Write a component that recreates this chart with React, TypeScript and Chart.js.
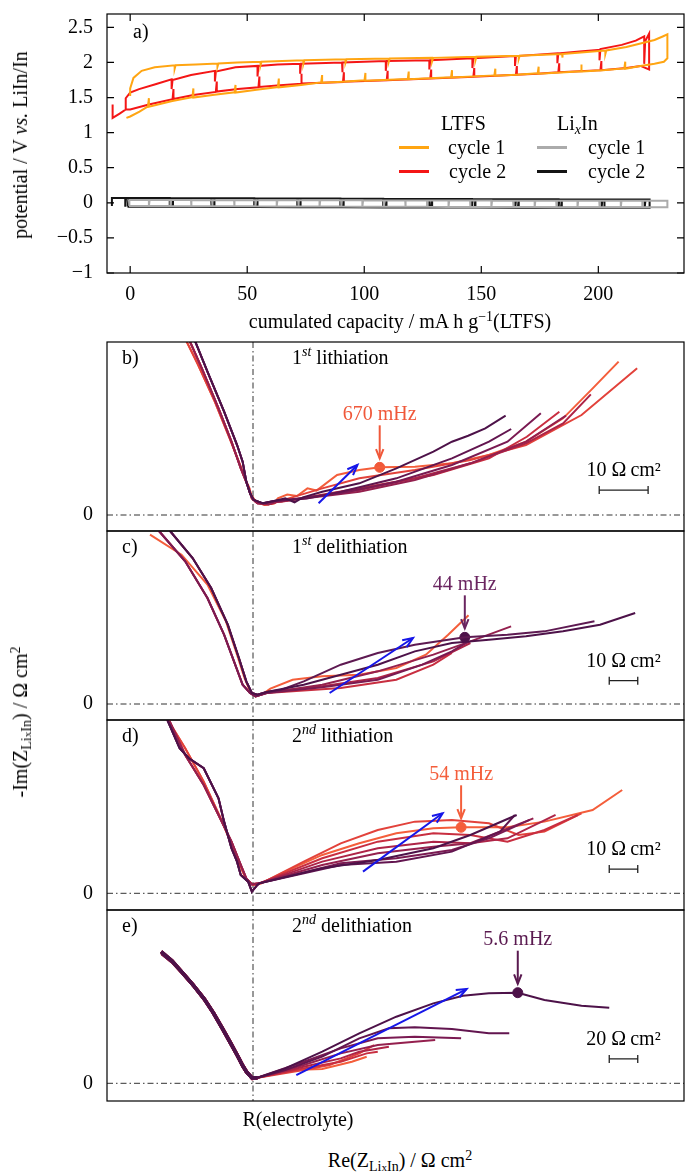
import React, { useEffect, useRef } from "react";
import { Chart, registerables } from "chart.js";

Chart.register(...registerables);

const FONT = "'Liberation Serif', 'Times New Roman', serif";
Chart.defaults.font.family = FONT;
Chart.defaults.color = "#000";

type P = [number, number];

/* ================= panel a : potential vs cumulated capacity ================= */
const CAPACITY_TICKS = [0, 50, 100, 150, 200];
const POTENTIAL_TICKS = [-1, -0.5, 0, 0.5, 1, 1.5, 2, 2.5];

// LTFS cycle 1 (upper branch left->right, lower branch right->left)
const LTFS_CYCLE1: P[] = [
  [0, 1.52], [0, 1.63], [1.4, 1.78], [4.9, 1.88], [10.5, 1.93], [19, 1.96], [19, 1.91], [19.4, 1.96],
  [28, 1.97], [37.3, 1.985], [37.3, 1.94], [37.7, 1.985], [45.8, 2.0], [55.7, 2.01], [55.7, 1.96], [56.1, 2.01],
  [65, 2.02], [74, 2.03], [74, 1.98], [74.4, 2.03], [92, 2.045], [92, 2.0], [92.4, 2.045], [110.5, 2.055],
  [110.5, 2.01], [110.9, 2.055], [129, 2.065], [129, 2.02], [129.4, 2.065], [147.5, 2.08], [147.5, 2.03],
  [147.9, 2.08], [166, 2.095], [166, 2.05], [166.4, 2.095], [184.5, 2.12], [184.5, 2.07], [184.9, 2.12],
  [203, 2.17], [203, 2.12], [203.4, 2.17], [212, 2.22], [218, 2.27], [224, 2.32], [227.5, 2.37], [229.5, 2.4],
  [229.5, 2.06],
  [228, 2.01], [224, 1.98], [218, 1.95], [211.5, 1.91], [211.5, 2.01], [211.1, 1.915], [202, 1.89], [193, 1.87],
  [193, 1.97], [192.6, 1.875], [184, 1.855], [174.5, 1.84], [174.5, 1.94], [174.1, 1.845], [165, 1.825],
  [156, 1.81], [156, 1.91], [155.6, 1.815], [137.5, 1.785], [137.5, 1.89], [137.1, 1.79], [119, 1.76],
  [119, 1.87], [118.6, 1.765], [100.5, 1.74], [100.5, 1.85], [100.1, 1.745], [91, 1.725], [82, 1.71],
  [82, 1.82], [81.6, 1.715], [73, 1.68], [63.5, 1.645], [63.5, 1.77], [63.1, 1.65], [54, 1.61], [45, 1.57],
  [45, 1.68], [44.6, 1.575], [36, 1.54], [27, 1.5], [27, 1.63], [26.6, 1.505], [18, 1.45], [8, 1.37],
  [8, 1.49], [7.6, 1.375], [4, 1.3], [0, 1.23], [-1.6, 1.21],
];

// LTFS cycle 2
const LTFS_CYCLE2: P[] = [
  [-7.5, 1.4], [-7.5, 1.21], [-4.5, 1.27], [-1.9, 1.33], [-1.9, 1.49], [0, 1.57], [3.8, 1.62], [10.8, 1.69],
  [17.7, 1.76], [17.7, 1.62], [18.1, 1.75], [26, 1.82], [36.2, 1.88], [36.2, 1.73], [36.6, 1.87], [45, 1.93],
  [54.4, 1.95], [54.4, 1.8], [54.8, 1.95], [63, 1.97], [72.6, 1.98], [72.6, 1.84], [73, 1.98], [90.5, 2.0],
  [90.5, 1.86], [90.9, 2.0], [109.2, 2.02], [109.2, 1.88], [109.6, 2.02], [127.8, 2.03], [127.8, 1.9],
  [128.2, 2.03], [146.2, 2.06], [146.2, 1.92], [146.6, 2.06], [164.4, 2.09], [164.4, 1.95], [164.8, 2.09],
  [182.5, 2.13], [182.5, 1.99], [182.9, 2.13], [192, 2.155], [200.5, 2.18], [200.5, 2.03], [200.9, 2.19],
  [210, 2.25], [216, 2.31], [219.6, 2.37], [219.6, 1.98], [220, 2.3], [221.7, 2.41], [221.7, 1.9],
  [218, 1.95], [212, 1.92], [201.3, 1.89], [201.3, 2.02], [200.9, 1.89], [192, 1.875], [183.3, 1.86],
  [183.3, 1.99], [182.9, 1.86], [174, 1.84], [165.2, 1.825], [165.2, 1.95], [164.8, 1.825], [156, 1.81],
  [147, 1.795], [147, 1.92], [146.6, 1.795], [128.6, 1.77], [128.6, 1.9], [128.2, 1.77], [110, 1.745],
  [110, 1.88], [109.6, 1.745], [91.3, 1.725], [91.3, 1.86], [90.9, 1.72], [73.4, 1.7], [73.4, 1.84],
  [73, 1.695], [64, 1.675], [55.2, 1.65], [55.2, 1.8], [54.8, 1.645], [46, 1.62], [37, 1.585], [37, 1.73],
  [36.6, 1.58], [27, 1.535], [18.5, 1.48], [18.5, 1.62], [18.1, 1.475], [8, 1.4], [0, 1.33], [-1.9, 1.33],
];

// LixIn cycle 1: relaxation steps
const LIXIN_C1_CAPS = [-0.5, 8.0, 17.2, 26.0, 35.0, 44.4, 53.5, 62.6, 71.8, 80.9, 90.1, 99.2, 108.4, 117.5, 126.8, 136.0, 145.2, 154.3, 163.6, 172.8, 182.0, 191.1, 200.4, 209.6, 218.8, 229.5];
const LIXIN_C1_UPPER = [0.04, 0.04, 0.039, 0.039, 0.038, 0.038, 0.037, 0.037, 0.036, 0.036, 0.035, 0.035, 0.034, 0.034, 0.033, 0.033, 0.032, 0.032, 0.031, 0.031, 0.03, 0.03, 0.03, 0.03, 0.03, 0.03];
const LIXIN_C1_LOWER = [-0.045, -0.046, -0.047, -0.048, -0.049, -0.05, -0.05, -0.051, -0.052, -0.053, -0.054, -0.055, -0.055, -0.056, -0.057, -0.058, -0.059, -0.06, -0.06, -0.061, -0.062, -0.063, -0.064, -0.064, -0.065, -0.065];

// LixIn cycle 2
const LIXIN_C2_START: P[] = [[-7.8, -0.045], [-7.8, 0.07]];
const LIXIN_C2_UP_CAPS = [-2.1, 16.9, 34.6, 53.0, 71.4, 89.8, 108.1, 127.7, 146.0, 164.5, 183.0, 201.4, 219.8];
const LIXIN_C2_UP_V = [0.07, 0.068, 0.066, 0.064, 0.062, 0.06, 0.058, 0.056, 0.054, 0.052, 0.05, 0.048, 0.046];
const LIXIN_C2_LOW_CAPS = [221.9, 202.8, 184.4, 166.0, 147.5, 129.0, 109.5, 91.2, 72.8, 54.4, 36.0, 18.3, -0.7];
const LIXIN_C2_LOW_V = [-0.072, -0.071, -0.07, -0.069, -0.068, -0.067, -0.066, -0.064, -0.062, -0.06, -0.058, -0.056, -0.055];

function lixinCycle1(): P[] {
  const pts: P[] = [];
  const n = LIXIN_C1_CAPS.length;
  LIXIN_C1_CAPS.forEach((c, i) => {
    pts.push([c, LIXIN_C1_UPPER[i]], [c, LIXIN_C1_LOWER[i]]);
    if (i < n - 1) pts.push([c + 0.3, LIXIN_C1_UPPER[i]]);
  });
  for (let i = n - 1; i >= 0; i--) pts.push([LIXIN_C1_CAPS[i], LIXIN_C1_LOWER[i]]);
  return pts;
}

function lixinCycle2(): P[] {
  const pts: P[] = [...LIXIN_C2_START];
  const n = LIXIN_C2_UP_CAPS.length;
  LIXIN_C2_UP_CAPS.forEach((c, i) => {
    const lo = LIXIN_C2_LOW_V[n - 1 - i];
    pts.push([c, LIXIN_C2_UP_V[i]], [c, lo], [c + 0.35, LIXIN_C2_UP_V[i]]);
  });
  pts.push([LIXIN_C2_LOW_CAPS[0], LIXIN_C2_UP_V[n - 1]]);
  LIXIN_C2_LOW_CAPS.forEach((c, j) => {
    pts.push([c, LIXIN_C2_LOW_V[j]]);
    if (j > 0) {
      const hi = LIXIN_C2_UP_V[n - 1 - j];
      pts.push([c, hi], [c - 0.35, LIXIN_C2_LOW_V[j]]);
    }
  });
  return pts;
}

/* ================= panels b-e : Nyquist plots ================= */
const R_ELECTROLYTE = 20; // Ω cm²
const PALETTE = ["#4d1249", "#62154f", "#7a1a52", "#94204e", "#ae2447", "#c82e40", "#e2423b", "#f45e3b"];

// b) 1st lithiation
const B_HF_DARK: P[] = [[7.65, 36.81], [10.68, 29.31], [14.09, 21.13], [16.74, 14.31], [17.88, 10.91], [18.63, 6.82], [19.39, 4.43], [20.15, 3.07], [22.04, 2.39], [24.32, 2.86]];
const B_HF_MID: P[] = [[6.51, 36.81], [9.54, 29.99], [12.95, 21.81], [15.6, 15.0], [17.5, 9.54], [18.86, 6.14], [19.77, 3.41], [20.91, 2.39], [23.18, 2.18], [25.07, 2.73]];
const B_HF_LIGHT: P[] = [[5.76, 36.81], [8.79, 30.68], [12.19, 23.18], [15.23, 15.68], [17.35, 10.23], [18.63, 6.82], [19.2, 5.6], [19.62, 4.09], [20.53, 2.73], [22.42, 2.04], [24.32, 2.39]];
const B_TAIL_1: P[] = [[26.59, 3.41], [28.5, 2.6], [30.2, 3.6], [34.16, 4.77], [41.74, 6.48], [49.32, 9.54], [56.89, 12.95], [60.68, 14.99], [64.0, 16.2], [67.5, 17.72], [71.66, 20.31]];
const B_TAIL_2: P[] = [[26.59, 3.07], [31.0, 3.4], [37.95, 4.77], [49.32, 7.5], [60.68, 11.59], [68.26, 14.99], [72.8, 17.59]];
const B_TAIL_3: P[] = [[26.59, 3.07], [37.95, 4.43], [49.32, 6.82], [60.68, 10.23], [72.04, 14.99], [78.86, 20.79]];
const B_TAIL_4: P[] = [[26.59, 2.93], [41.74, 4.77], [53.1, 7.16], [64.47, 10.57], [75.83, 14.99], [84.01, 20.31]];
const B_TAIL_5: P[] = [[26.59, 2.93], [41.74, 5.11], [53.1, 7.5], [64.47, 10.57], [75.83, 14.65], [83.41, 18.75], [89.09, 24.68]];
const B_TAIL_6: P[] = [[25.83, 2.73], [41.74, 5.45], [56.89, 8.18], [68.26, 11.59], [76.0, 16.0], [82.65, 21.13]];
const B_TAIL_7: P[] = [[25.07, 2.73], [34.16, 5.45], [41.74, 7.5], [53.1, 9.2], [64.47, 11.25], [75.83, 14.32], [87.19, 20.45], [98.56, 30.0]];
const B_TAIL_8: P[] = [[25.07, 3.41], [27.0, 4.2], [29.0, 3.9], [31.13, 5.45], [33.0, 5.0], [37.19, 8.18], [41.74, 9.2], [45.91, 9.75], [53.1, 9.88], [60.68, 10.57], [68.26, 12.27], [75.83, 14.99], [83.41, 19.77], [89.47, 25.9], [94.77, 31.36]];
const B_CURVES: P[][] = [
  [...B_HF_DARK, ...B_TAIL_1], [...B_HF_DARK, ...B_TAIL_2], [...B_HF_DARK, ...B_TAIL_3], [...B_HF_MID, ...B_TAIL_4],
  [...B_HF_MID, ...B_TAIL_5], [...B_HF_MID, ...B_TAIL_6], [...B_HF_LIGHT, ...B_TAIL_7], [...B_HF_LIGHT, ...B_TAIL_8],
];
const B_MARKER: P = [45.91, 9.75];
const B_TREND: P[] = [[33.41, 2.39], [41.36, 10.23]];
const B_SCALE_BAR: P = [90.8, 5.1];

// c) 1st delithiation
const C_HF_DARK: P[] = [[-10.2, 62.5], [-9.0, 60.58], [-1.19, 51.2], [5.31, 40.7], [11.15, 27.83], [15.05, 16.14], [17.65, 7.95], [19.6, 3.86], [21.55, 3.27], [24.8, 4.2]];
const C_HF_MID: P[] = [[-14.0, 62.5], [-12.89, 60.58], [-3.79, 50.05], [4.01, 37.19], [9.85, 24.32], [13.75, 13.8], [16.35, 6.78], [18.95, 3.86], [20.9, 2.68], [24.8, 3.86]];
const C_HF_LIGHT: P[] = [[-16.14, 59.41], [-5.09, 52.39], [4.01, 41.87], [10.5, 29.0], [14.4, 17.31], [17.0, 9.12], [18.95, 4.44], [20.9, 2.68], [23.5, 3.6]];
const C_TAIL_1: P[] = [[37.8, 6.78], [50.79, 10.29], [63.78, 13.8], [76.78, 18.47], [89.78, 21.4], [102.77, 22.57], [115.77, 23.74], [128.76, 25.49], [141.76, 27.83], [154.1, 31.93]];
const C_TAIL_2: P[] = [[30.0, 5.0], [37.8, 7.95], [50.79, 13.8], [63.78, 17.89], [76.78, 20.81], [94.32, 23.39], [109.27, 24.32], [122.27, 25.49], [139.81, 29.0]];
const C_TAIL_3: P[] = [[44.29, 6.78], [63.78, 11.46], [83.28, 17.31], [96.27, 21.98], [110.57, 27.25]];
const C_TAIL_4: P[] = [[44.29, 6.2], [63.78, 9.12], [83.28, 14.97], [96.27, 21.4]];
const C_TAIL_5: P[] = [[44.29, 5.84], [63.78, 8.53], [79.38, 13.8], [89.78, 18.47], [95.62, 21.98]];
const C_TAIL_6: P[] = [[50.79, 5.61], [70.28, 8.53], [83.28, 13.8], [89.78, 17.89]];
const C_TAIL_7: P[] = [[26.1, 5.4], [33.9, 8.53], [44.29, 9.7], [57.29, 10.29], [70.28, 12.63], [80.68, 17.31], [88.48, 24.32], [95.62, 31.11]];
const C_CURVES: P[][] = [
  [...C_HF_DARK, ...C_TAIL_1], [...C_HF_DARK, ...C_TAIL_2], [...C_HF_MID, ...C_TAIL_5], [...C_HF_MID, ...C_TAIL_3],
  [...C_HF_DARK, ...C_TAIL_4], [...C_HF_MID, ...C_TAIL_6], [...C_HF_LIGHT, ...C_TAIL_7],
];
const C_COLORS = ["#4d1249", "#5e1a52", "#7a1a52", "#94204e", "#ae2447", "#c82e40", "#f45e3b"];
const C_MARKER: P = [94.32, 23.39];
const C_TREND: P[] = [[46.89, 3.86], [76.13, 23.15]];
const C_SCALE_BAR: P = [145.0, 8.2];

// d) 2nd lithiation
const D_HF_DARK: P[] = [[-11.0, 63.0], [-5.74, 50.87], [-2.49, 47.37], [2.71, 43.86], [7.9, 33.33], [9.85, 25.14], [12.45, 15.79], [14.4, 11.11], [15.7, 6.43], [18.3, 4.09], [19.6, 0.58], [21.55, 2.92], [22.2, 3.5]];
const D_HF_MID: P[] = [[-10.5, 63.0], [-3.79, 48.54], [2.71, 38.01], [7.9, 27.48], [12.45, 18.12], [15.7, 9.94], [17.65, 5.26], [19.6, 3.15], [22.2, 3.5]];
const D_HF_LIGHT: P[] = [[-11.2, 63.0], [-3.79, 50.87], [2.71, 39.18], [9.2, 25.14], [14.4, 12.28], [17.65, 4.68], [20.25, 2.92], [22.85, 3.5]];
const D_TAIL_1: P[] = [[44.29, 8.77], [63.78, 11.7], [83.28, 15.79], [96.27, 20.46], [112.52, 27.48]];
const D_TAIL_2: P[] = [[50.79, 9.94], [70.28, 11.11], [89.78, 14.62], [106.67, 21.63], [111.87, 27.48]];
const D_TAIL_3: P[] = [[50.79, 10.52], [70.28, 12.28], [89.78, 15.2], [102.77, 19.29], [117.07, 25.73]];
const D_TAIL_4: P[] = [[44.29, 9.94], [63.78, 14.03], [83.28, 16.37], [96.27, 17.54], [118.37, 26.31]];
const D_TAIL_5: P[] = [[44.29, 11.11], [63.78, 15.79], [83.28, 18.12], [96.27, 17.54], [109.27, 19.29], [126.16, 27.48]];
const D_TAIL_6: P[] = [[44.29, 12.28], [63.78, 18.12], [83.28, 21.05], [96.27, 20.46], [109.27, 18.12], [122.27, 22.22], [133.96, 27.48]];
const D_TAIL_7: P[] = [[37.8, 11.11], [50.79, 17.54], [63.78, 22.22], [76.78, 25.14], [89.78, 25.73], [102.77, 24.56], [113.17, 20.46], [122.27, 21.63], [135.26, 28.07]];
const D_TAIL_8: P[] = [[31.3, 7.6], [44.29, 13.45], [57.29, 17.54], [70.28, 21.05], [83.28, 22.8], [93.02, 23.15], [109.27, 23.15], [122.27, 25.14], [139.16, 29.24], [149.55, 36.25]];
const D_CURVES: P[][] = [
  [...D_HF_DARK, ...D_TAIL_1], [...D_HF_DARK, ...D_TAIL_2], [...D_HF_DARK, ...D_TAIL_3], [...D_HF_MID, ...D_TAIL_4],
  [...D_HF_MID, ...D_TAIL_5], [...D_HF_MID, ...D_TAIL_6], [...D_HF_LIGHT, ...D_TAIL_7], [...D_HF_LIGHT, ...D_TAIL_8],
];
const D_MARKER: P = [93.02, 23.15];
const D_TREND: P[] = [[58.59, 7.6], [86.53, 28.07]];
const D_SCALE_BAR: P = [145.0, 8.5];

// e) 2nd delithiation
const E_HF_A: P[] = [[-44.49, 92.35], [-36.69, 85.8], [-30.19, 78.32], [-22.39, 69.43], [-14.6, 59.6], [-8.1, 49.78], [-1.6, 38.55], [3.6, 29.19], [8.8, 19.84], [12.7, 12.36], [15.3, 8.14], [19.19, 3.93], [23.09, 3.93]];
const E_HF_B: P[] = [[-44.0, 91.2], [-36.0, 84.6], [-29.4, 77.4], [-21.7, 68.6], [-13.9, 58.7], [-7.4, 48.9], [-0.9, 37.7], [4.3, 28.3], [9.4, 19.0], [13.3, 11.6], [15.9, 7.5], [19.6, 3.4], [23.09, 3.93]];
const E_TAIL_1: P[] = [[42.58, 10.48], [68.58, 22.18], [94.57, 35.04], [120.56, 46.74], [146.55, 56.1], [167.34, 61.47], [185.54, 63.11], [205.81, 63.58], [224.53, 58.43], [250.52, 54.46], [270.0, 53.05]];
const E_TAIL_2: P[] = [[42.58, 9.31], [68.58, 18.67], [94.57, 31.53], [115.36, 38.55], [133.56, 39.25], [159.55, 38.08], [185.54, 35.04], [199.84, 35.04]];
const E_TAIL_3: P[] = [[55.58, 15.16], [81.57, 24.52], [107.56, 31.53], [133.56, 32.7], [166.05, 31.53]];
const E_TAIL_4: P[] = [[55.58, 12.82], [81.57, 21.01], [107.56, 26.86], [133.56, 29.19], [147.85, 30.36]];
const E_TAIL_5: P[] = [[55.58, 11.65], [81.57, 17.5], [94.57, 22.18], [115.36, 25.68]];
const E_TAIL_6: P[] = [[55.58, 10.48], [81.57, 15.16], [99.77, 21.01], [107.56, 22.18]];
const E_TAIL_7: P[] = [[55.58, 9.31], [73.77, 12.82], [94.57, 21.01], [104.97, 26.86]];
const E_TAIL_8: P[] = [[47.78, 9.31], [68.58, 10.01], [89.37, 15.16], [99.77, 18.67]];
const E_CURVES: P[][] = [
  [...E_HF_A, ...E_TAIL_1], [...E_HF_B, ...E_TAIL_2], [...E_HF_A, ...E_TAIL_3], [...E_HF_B, ...E_TAIL_4],
  [...E_HF_A, ...E_TAIL_5], [...E_HF_B, ...E_TAIL_6], [...E_HF_A, ...E_TAIL_7], [...E_HF_B, ...E_TAIL_8],
];
const E_MARKER: P = [205.81, 63.58];
const E_TREND: P[] = [[50.38, 5.8], [169.95, 66.15]];
const E_SCALE_BAR: P = [270.0, 17.1];

/* ================= helpers ================= */
const toXY = (pts: P[]) => pts.map(([x, y]) => ({ x, y }));

function drawArrow(ctx: any, x0: number, y0: number, x1: number, y1: number, color: string, head = 10) {
  ctx.save();
  ctx.strokeStyle = color;
  ctx.lineWidth = 2;
  ctx.beginPath();
  ctx.moveTo(x0, y0);
  ctx.lineTo(x1, y1);
  ctx.stroke();
  const a = Math.atan2(y1 - y0, x1 - x0);
  ctx.beginPath();
  ctx.moveTo(x1 - head * Math.cos(a - 0.38), y1 - head * Math.sin(a - 0.38));
  ctx.lineTo(x1, y1);
  ctx.lineTo(x1 - head * Math.cos(a + 0.38), y1 - head * Math.sin(a + 0.38));
  ctx.stroke();
  ctx.restore();
}

function drawRich(ctx: any, x: number, y: number, parts: any[]) {
  let cx = x;
  ctx.textAlign = "left";
  ctx.textBaseline = "middle";
  for (const p of parts) {
    ctx.font = `${p.italic ? "italic " : ""}${p.size}px ${FONT}`;
    ctx.fillText(p.text, cx, y + (p.dy || 0));
    cx += ctx.measureText(p.text).width;
  }
}

const noGrid = { display: false, drawTicks: false };
const noBorder = { display: false };
const fixWidth = (w: number) => (s: any) => {
  s.width = w;
  s.paddingTop = 0;
  s.paddingBottom = 0;
};
const fixHeight = (h: number) => (s: any) => {
  s.height = h;
  s.paddingLeft = 0;
  s.paddingRight = 0;
};

/* ================= panel a config ================= */
function buildPanelA() {
  const frame = {
    id: "frameA",
    afterDatasetsDraw(chart: any) {
      const { ctx, chartArea: ca, scales } = chart;
      ctx.save();
      ctx.strokeStyle = "#000";
      ctx.lineWidth = 1.2;
      ctx.strokeRect(ca.left, ca.top, ca.right - ca.left, ca.bottom - ca.top);
      ctx.beginPath();
      for (const t of scales.x.ticks) {
        const px = scales.x.getPixelForValue(t.value);
        ctx.moveTo(px, ca.bottom); ctx.lineTo(px, ca.bottom - 7);
        ctx.moveTo(px, ca.top); ctx.lineTo(px, ca.top + 7);
      }
      for (const t of scales.y.ticks) {
        const py = scales.y.getPixelForValue(t.value);
        ctx.moveTo(ca.left, py); ctx.lineTo(ca.left + 7, py);
        ctx.moveTo(ca.right, py); ctx.lineTo(ca.right - 7, py);
      }
      ctx.stroke();
      ctx.fillStyle = "#000";
      drawRich(ctx, ca.left + 26, ca.top + 19, [{ text: "a)", size: 20 }]);
      ctx.restore();
    },
  };
  return {
    type: "scatter",
    data: {
      datasets: [
        { data: toXY(lixinCycle1()), borderColor: "#ababab", borderWidth: 2 },
        { data: toXY(lixinCycle2()), borderColor: "#141414", borderWidth: 2 },
        { data: toXY(LTFS_CYCLE1), borderColor: "#ffa512", borderWidth: 2 },
        { data: toXY(LTFS_CYCLE2), borderColor: "#f41616", borderWidth: 2 },
      ],
    },
    options: {
      responsive: false,
      animation: false,
      devicePixelRatio: 1,
      layout: { autoPadding: false, padding: { top: 14, right: 2, left: 0, bottom: 0 } },
      plugins: { legend: { display: false }, tooltip: { enabled: false } },
      datasets: { scatter: { showLine: true, pointRadius: 0, tension: 0 } },
      scales: {
        x: {
          type: "linear", min: -9.9, max: 236.6,
          grid: noGrid, border: noBorder,
          afterBuildTicks: (a: any) => { a.ticks = CAPACITY_TICKS.map((v) => ({ value: v })); },
          afterFit: fixHeight(37),
          ticks: { padding: 10, font: { size: 20, family: FONT }, color: "#000", autoSkip: false, maxRotation: 0 },
        },
        y: {
          type: "linear", min: -1, max: 2.69,
          grid: noGrid, border: noBorder,
          afterBuildTicks: (a: any) => { a.ticks = POTENTIAL_TICKS.map((v) => ({ value: v })); },
          afterFit: fixWidth(107),
          ticks: {
            padding: 14, font: { size: 20, family: FONT }, color: "#000", autoSkip: false,
            callback: (v: any) => String(v).replace("-", "\u2212"),
          },
        },
      },
    },
    plugins: [frame],
  };
}

/* ================= panels b-e config ================= */
const NYQUIST_PANELS = [
  {
    key: "b", top: 340, height: 193, padTop: 2, padBottom: 2, xAxisH: 0,
    xMin: -9.86, xMax: 108.14, yMin: -3.27, yMax: 35.38,
    letter: "b)", ord: "1", sup: "st", title: " lithiation",
    curves: B_CURVES, colors: PALETTE, hfWidth: 2, hfSegments: 0,
    marker: B_MARKER, markerLabel: "670 mHz", markerColor: "#f0583a", dotColor: "#f0583a",
    trend: B_TREND, bar: B_SCALE_BAR, barLen: 10,
  },
  {
    key: "c", top: 529, height: 193, padTop: 2, padBottom: 2, xAxisH: 0,
    xMin: -31.23, xMax: 171.23, yMin: -5.61, yMax: 60.7,
    letter: "c)", ord: "1", sup: "st", title: " delithiation",
    curves: C_CURVES, colors: C_COLORS, hfWidth: 2, hfSegments: 0,
    marker: C_MARKER, markerLabel: "44 mHz", markerColor: "#6a2560", dotColor: "#4d1249",
    trend: C_TREND, bar: C_SCALE_BAR, barLen: 10,
  },
  {
    key: "d", top: 718, height: 194, padTop: 2, padBottom: 2, xAxisH: 0,
    xMin: -31.23, xMax: 171.23, yMin: -5.86, yMax: 60.8,
    letter: "d)", ord: "2", sup: "nd", title: " lithiation",
    curves: D_CURVES, colors: PALETTE, hfWidth: 2, hfSegments: 0,
    marker: D_MARKER, markerLabel: "54 mHz", markerColor: "#f45e3b", dotColor: "#f45e3b",
    trend: D_TREND, bar: D_SCALE_BAR, barLen: 10,
  },
  {
    key: "e", top: 908, height: 232, padTop: 2, padBottom: 0, xAxisH: 39,
    xMin: -82.46, xMax: 322.46, yMin: -12.42, yMax: 121.6,
    letter: "e)", ord: "2", sup: "nd", title: " delithiation",
    curves: E_CURVES, colors: PALETTE, hfWidth: 3.5, hfSegments: 12,
    marker: E_MARKER, markerLabel: "5.6 mHz", markerColor: "#5a1a50", dotColor: "#4d1249",
    trend: E_TREND, bar: E_SCALE_BAR, barLen: 20,
  },
];

function buildNyquist(p: any) {
  const deco = {
    id: "deco_" + p.key,
    beforeDatasetsDraw(chart: any) {
      const { ctx, chartArea: ca, scales } = chart;
      ctx.save();
      ctx.strokeStyle = "#333";
      ctx.lineWidth = 1;
      ctx.setLineDash([6, 3, 1.5, 3]);
      const y0 = scales.y.getPixelForValue(0);
      const xr = scales.x.getPixelForValue(R_ELECTROLYTE);
      ctx.beginPath();
      ctx.moveTo(ca.left, y0); ctx.lineTo(ca.right, y0);
      ctx.moveTo(xr, ca.top); ctx.lineTo(xr, ca.bottom);
      ctx.stroke();
      ctx.restore();
    },
    afterDatasetsDraw(chart: any) {
      const { ctx, chartArea: ca, scales } = chart;
      const X = (v: number) => scales.x.getPixelForValue(v);
      const Y = (v: number) => scales.y.getPixelForValue(v);
      ctx.save();
      // trend arrow
      drawArrow(ctx, X(p.trend[0][0]), Y(p.trend[0][1]), X(p.trend[1][0]), Y(p.trend[1][1]), "#1616e8", 11);
      // frequency marker arrow + label
      const mx = X(p.marker[0]);
      const my = Y(p.marker[1]);
      drawArrow(ctx, mx, my - 42, mx, my - 9, p.markerColor, 10);
      ctx.fillStyle = p.markerColor;
      ctx.font = `20px ${FONT}`;
      ctx.textAlign = "center";
      ctx.textBaseline = "middle";
      ctx.fillText(p.markerLabel, mx, my - 53);
      // scale bar
      const bx0 = X(p.bar[0]);
      const bx1 = X(p.bar[0] + p.barLen);
      const by = Y(p.bar[1]);
      ctx.strokeStyle = "#222";
      ctx.lineWidth = 1.3;
      ctx.beginPath();
      ctx.moveTo(bx0, by); ctx.lineTo(bx1, by);
      ctx.moveTo(bx0, by - 4); ctx.lineTo(bx0, by + 4);
      ctx.moveTo(bx1, by - 4); ctx.lineTo(bx1, by + 4);
      ctx.stroke();
      ctx.fillStyle = "#000";
      ctx.font = `20px ${FONT}`;
      ctx.textAlign = "center";
      ctx.fillText(`${p.barLen} \u03A9\u2009cm\u00B2`, (bx0 + bx1) / 2, by - 19);
      // frame
      ctx.strokeStyle = "#000";
      ctx.lineWidth = 1.2;
      ctx.strokeRect(ca.left, ca.top, ca.right - ca.left, ca.bottom - ca.top);
      // panel letter + heading
      ctx.fillStyle = "#000";
      drawRich(ctx, ca.left + 15, ca.top + 17, [{ text: p.letter, size: 20 }]);
      drawRich(ctx, ca.left + 185, ca.top + 17, [
        { text: p.ord, size: 20 },
        { text: p.sup, size: 14, italic: true, dy: -7 },
        { text: p.title, size: 20 },
      ]);
      ctx.restore();
    },
  };
  const datasets: any[] = p.curves.map((c: P[], i: number) => ({
    data: toXY(c),
    borderColor: p.colors[i],
    borderWidth: 2,
    showLine: true,
    pointRadius: 0,
    segment: {
      borderWidth: (s: any) => (s.p0DataIndex < p.hfSegments ? p.hfWidth : 2),
    },
  }));
  datasets.push({
    data: toXY([p.marker]),
    showLine: false,
    pointRadius: 5,
    backgroundColor: p.dotColor,
    borderColor: p.dotColor,
  });
  const showX = p.xAxisH > 0;
  return {
    type: "scatter",
    data: { datasets },
    options: {
      responsive: false,
      animation: false,
      devicePixelRatio: 1,
      layout: { autoPadding: false, padding: { top: p.padTop, bottom: p.padBottom, right: 2, left: 0 } },
      plugins: { legend: { display: false }, tooltip: { enabled: false } },
      scales: {
        x: {
          type: "linear", display: showX, min: p.xMin, max: p.xMax,
          grid: noGrid, border: noBorder,
          afterBuildTicks: (a: any) => { a.ticks = [{ value: R_ELECTROLYTE }]; },
          afterFit: fixHeight(p.xAxisH),
          ticks: {
            padding: 8, labelOffset: 45, font: { size: 20, family: FONT }, color: "#000",
            autoSkip: false, maxRotation: 0, callback: () => "R(electrolyte)",
          },
        },
        y: {
          type: "linear", min: p.yMin, max: p.yMax,
          grid: noGrid, border: noBorder,
          afterBuildTicks: (a: any) => { a.ticks = [{ value: 0 }]; },
          afterFit: fixWidth(107),
          ticks: { padding: 14, font: { size: 20, family: FONT }, color: "#000", autoSkip: false, callback: () => "0" },
        },
      },
    },
    plugins: [deco],
  };
}

/* ================= components ================= */
function ChartCanvas({ top, height, build }: { top: number; height: number; build: () => any }) {
  const ref = useRef<HTMLCanvasElement | null>(null);
  useEffect(() => {
    const chart = new Chart(ref.current as HTMLCanvasElement, build());
    return () => chart.destroy();
  }, []);
  return (
    <canvas
      ref={ref}
      width={686}
      height={height}
      style={{ position: "absolute", left: 0, top, width: 686, height, display: "block" }}
    />
  );
}

const txt: React.CSSProperties = {
  position: "absolute",
  fontFamily: FONT,
  fontSize: 20,
  lineHeight: 1,
  whiteSpace: "nowrap",
  color: "#000",
};
const centered = (x: number, y: number, rot = false): React.CSSProperties => ({
  ...txt,
  left: x,
  top: y,
  transform: `translate(-50%, -50%)${rot ? " rotate(-90deg)" : ""}`,
});
const sub: React.CSSProperties = { fontSize: "70%", verticalAlign: "-0.3em", lineHeight: 0 };
const sup: React.CSSProperties = { fontSize: "70%", verticalAlign: "0.5em", lineHeight: 0 };
const swatch = (x: number, y: number, color: string): React.CSSProperties => ({
  position: "absolute", left: x, top: y - 1, width: 30, height: 2.5, background: color,
});

export default function App() {
  return (
    <div style={{ position: "absolute", left: 0, top: 0, width: 686, height: 1172, background: "#fff", overflow: "hidden" }}>
      <ChartCanvas top={0} height={310} build={buildPanelA} />
      {NYQUIST_PANELS.map((p) => (
        <ChartCanvas key={p.key} top={p.top} height={p.height} build={() => buildNyquist(p)} />
      ))}

      {/* panel a titles */}
      <div style={centered(20, 145, true)}>
        potential / V <i>vs.</i> LiIn/In
      </div>
      <div style={centered(400, 321)}>
        cumulated capacity / mA h g<span style={sup}>−1</span>(LTFS)
      </div>

      {/* legend */}
      <div style={{ ...txt, left: 441, top: 113 }}>LTFS</div>
      <div style={{ ...txt, left: 557, top: 113 }}>
        Li<i style={sub}>x</i>In
      </div>
      <div style={swatch(399, 147, "#ffa512")} />
      <div style={{ ...txt, left: 448, top: 137 }}>cycle 1</div>
      <div style={swatch(399, 171, "#f41616")} />
      <div style={{ ...txt, left: 449, top: 161 }}>cycle 2</div>
      <div style={swatch(537, 147, "#ababab")} />
      <div style={{ ...txt, left: 588, top: 137 }}>cycle 1</div>
      <div style={swatch(537, 171, "#141414")} />
      <div style={{ ...txt, left: 588, top: 161 }}>cycle 2</div>

      {/* panels b-e titles */}
      <div style={centered(20, 722, true)}>
        -Im(Z<span style={sub}>Li<span style={{ fontSize: "80%" }}>x</span>In</span>) / Ω cm<span style={sup}>2</span>
      </div>
      <div style={centered(400, 1160)}>
        Re(Z<span style={sub}>Li<span style={{ fontSize: "80%" }}>x</span>In</span>) / Ω cm<span style={sup}>2</span>
      </div>
    </div>
  );
}
